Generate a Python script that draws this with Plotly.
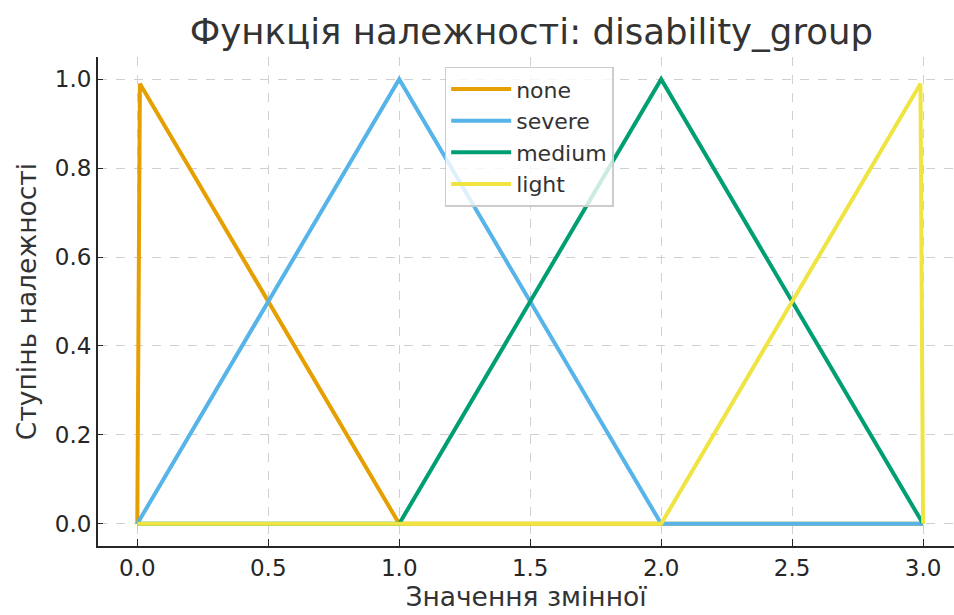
import plotly.graph_objects as go

names = ["none", "severe", "medium", "light"]
colors = ["#E69F00", "#56B4E9", "#009E73", "#F0E442"]
x_none = [0.0, 0.01, 1.0, 3.0]
y_none = [0.0, 0.99, 0.0, 0.0]
x_severe = [0.0, 1.0, 2.0, 3.0]
y_severe = [0.0, 1.0, 0.0, 0.0]
x_medium = [0.0, 1.0, 2.0, 3.0]
y_medium = [0.0, 0.0, 1.0, 0.0]
x_light = [0.0, 2.0, 2.99, 3.0]
y_light = [0.0, 0.0, 0.99, 0.0]

xs = [x_none, x_severe, x_medium, x_light]
ys = [y_none, y_severe, y_medium, y_light]

fig = go.Figure()
for n, c, x, y in zip(names, colors, xs, ys):
    fig.add_trace(go.Scatter(x=x, y=y, mode="lines", name=n,
                             line=dict(color=c, width=4)))

font = "DejaVu Sans"
fig.update_layout(
    width=954, height=615,
    margin=dict(l=98, r=0, t=57, b=69),
    plot_bgcolor="white", paper_bgcolor="white",
    font=dict(family=font, color="#262626", size=22),
    title=dict(text="Функція належності: disability_group", x=0.557, xanchor="center",
               y=0.948, yanchor="middle", font=dict(size=35.5, color="#333333")),
    legend=dict(x=0.405, y=0.98, xanchor="left", yanchor="top",
                bgcolor="rgba(255,255,255,0.8)", bordercolor="#cccccc", borderwidth=1.5,
                font=dict(size=22, color="#333333"), itemwidth=60),
    xaxis=dict(range=[-0.15, 3.118], tickvals=[0, 0.5, 1, 1.5, 2, 2.5, 3],
               ticktext=["0.0", "0.5", "1.0", "1.5", "2.0", "2.5", "3.0"],
               showgrid=True, gridcolor="#d0d0d0", griddash="dash", gridwidth=1,
               showline=True, linecolor="#262626", linewidth=2,
               ticks="inside", ticklen=7, tickcolor="#262626", zeroline=False,
               title=dict(text="Значення змінної", font=dict(size=26.5, color="#333333"), standoff=4),
               tickfont=dict(size=23)),
    yaxis=dict(range=[-0.05, 1.05], tickvals=[0, 0.2, 0.4, 0.6, 0.8, 1.0],
               ticktext=["0.0", "0.2", "0.4", "0.6", "0.8", "1.0"],
               showgrid=True, gridcolor="#d0d0d0", griddash="dash", gridwidth=1,
               showline=True, linecolor="#262626", linewidth=2,
               ticks="inside", ticklen=5, tickcolor="#262626", zeroline=False,
               title=dict(text="Ступінь належності", font=dict(size=26.5, color="#333333"), standoff=11),
               tickfont=dict(size=23)),
)

fig.write_html("out.html", config={"displayModeBar": False},
               post_script="document.body.style.margin='0';")
